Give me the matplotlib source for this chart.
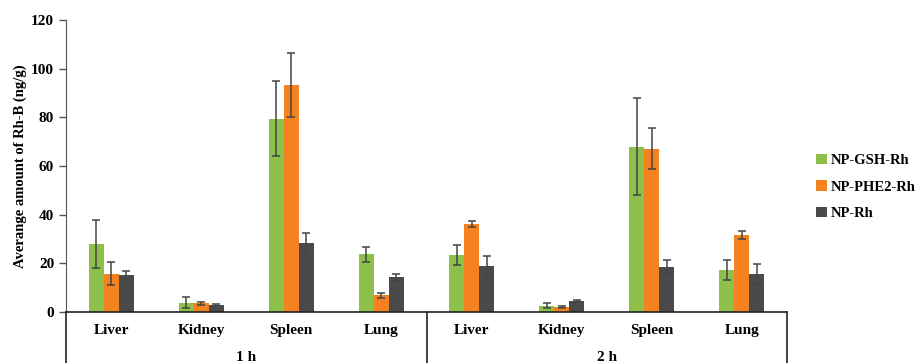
import numpy as np
import matplotlib.pyplot as plt

organs = ['Liver', 'Kidney', 'Spleen', 'Lung']
times = ['1 h', '2 h']
series = ['NP-GSH-Rh', 'NP-PHE2-Rh', 'NP-Rh']
colors = ['#8cc04b', '#f58220', '#4a4a4a']

# mean values, 1 h organs followed by 2 h organs
gsh = [28.0, 3.8, 79.5, 23.7, 23.5, 2.5, 68.0, 17.3]
phe2 = [15.7, 3.5, 93.3, 6.8, 36.2, 2.0, 67.1, 31.6]
rh = [15.3, 2.8, 28.3, 14.3, 19.0, 4.5, 18.6, 15.5]

# standard deviations
gsh_err = [10.0, 2.2, 15.5, 3.0, 4.2, 1.0, 20.0, 4.1]
phe2_err = [4.7, 0.8, 13.0, 1.2, 1.2, 0.5, 8.4, 1.7]
rh_err = [1.7, 0.4, 4.0, 1.5, 4.0, 0.3, 2.8, 4.1]

plt.rcParams['font.family'] = ['Liberation Serif', 'DejaVu Serif']
plt.rcParams['font.weight'] = 'bold'

fig = plt.figure(figsize=(9.19, 3.63), dpi=100)
ax = fig.add_axes([0.0718, 0.1405, 0.7846, 0.8044])

n = len(organs) * len(times)
x = np.arange(n)
w = 1 / 6
for i, (vals, errs) in enumerate(zip([gsh, phe2, rh], [gsh_err, phe2_err, rh_err])):
    ax.bar(x + (i - 1) * w, vals, w, color=colors[i], label=series[i],
           yerr=errs, capsize=3,
           error_kw=dict(ecolor='#444444', elinewidth=1.1, capthick=1.1))

ax.set_xlim(-0.5, n - 0.5)
ax.set_ylim(0, 120)
ax.set_yticks(range(0, 121, 20))
ax.tick_params(axis='y', labelsize=11, length=5, width=1, color='#555555')
for lab in ax.get_yticklabels():
    lab.set_fontweight('bold')
ax.set_ylabel('Averange amount of Rh-B (ng/g)', fontsize=10.5, fontweight='bold', labelpad=3)

for s in ['top', 'right']:
    ax.spines[s].set_visible(False)
ax.spines['left'].set_color('#555555')
ax.spines['bottom'].set_color('#222222')
ax.spines['bottom'].set_linewidth(1.2)

# two-level category axis
ax.set_xticks([])
trans = ax.get_xaxis_transform()
for k in range(n):
    ax.text(x[k], -0.062, organs[k % len(organs)], transform=trans,
            ha='center', va='center', fontsize=11, fontweight='bold')
for j, t in enumerate(times):
    mid = j * len(organs) + (len(organs) - 1) / 2
    ax.text(mid, -0.155, t, transform=trans, ha='center', va='center',
            fontsize=11, fontweight='bold')
for xb in [-0.5, 3.5, 7.5]:
    ax.plot([xb, xb], [0, -0.25], transform=trans, color='#222222',
            lw=1.2, clip_on=False)

fig.legend(loc='center left', bbox_to_anchor=(0.874, 0.485), frameon=False,
           prop=dict(size=10.5, weight='bold'), handlelength=0.7, handleheight=0.7,
           handletextpad=0.3, labelspacing=0.9)

fig.savefig('out.png', dpi=100)
